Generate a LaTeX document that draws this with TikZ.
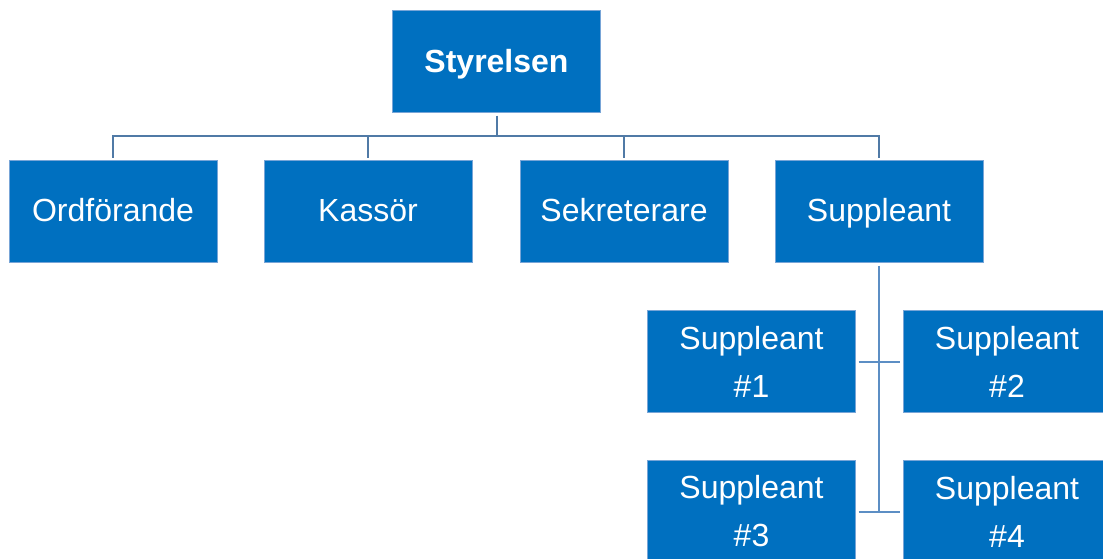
\documentclass[tikz,border=0pt]{standalone}
\usepackage{fontspec}
\setmainfont{Liberation Sans}
\definecolor{boxblue}{RGB}{0,112,192}
\definecolor{boxedge}{RGB}{120,165,215}
\definecolor{topline}{RGB}{80,122,166}
\definecolor{subline}{RGB}{92,142,196}

\begin{document}
\begin{tikzpicture}[x = 1pt, y = -1pt, font = \fontsize{32}{48}\selectfont]
	\tikzstyle{boxStyle} = [shape = rectangle, fill = boxblue, draw = boxedge, line width = 0.8pt, text = white, minimum width = 208pt, minimum height = 102pt, inner sep = 0pt, outer sep = 3pt, align = center]
	\tikzstyle{oneLineStyle} = [boxStyle, text height = 23pt, text depth = 4pt]
	\tikzstyle{topStyle} = [draw = topline, line width = 2pt]
	\tikzstyle{subStyle} = [draw = subline, line width = 2pt]
	\clip (0,0) rectangle (1103,558);
	\node[oneLineStyle, text depth = 2pt, font = \fontsize{32}{48}\selectfont\bfseries] (sty) at (496.5, 61.5) {Styrelsen};
	\node[oneLineStyle] (ord) at (113, 211.5) {Ordförande};
	\node[oneLineStyle] (kas) at (368, 211.5) {Kassör};
	\node[oneLineStyle] (sek) at (624, 211.5) {Sekreterare};
	\node[oneLineStyle] (sup) at (879, 211.5) {Suppleant};
	\node[boxStyle] (sup1) at (751.5, 361.5) {Suppleant\\\#1};
	\node[boxStyle] (sup2) at (1007, 361.5) {Suppleant\\\#2};
	\node[boxStyle] (sup3) at (751.5, 511.5) {Suppleant\\\#3};
	\node[boxStyle] (sup4) at (1007, 511.5) {Suppleant\\\#4};
	\coordinate (bus) at (496.5, 136);
	\draw[topStyle] (sty.south) -- (bus);
	\foreach \c in {ord, kas, sek, sup}
		\draw[topStyle] (bus) -| (\c.north);
	\draw[subStyle] (sup.south) -- (sup.south |- sup3.east);
	\draw[subStyle] (sup1.east) -- (sup2.west);
	\draw[subStyle] (sup3.east) -- (sup4.west);
\end{tikzpicture}
\end{document}
